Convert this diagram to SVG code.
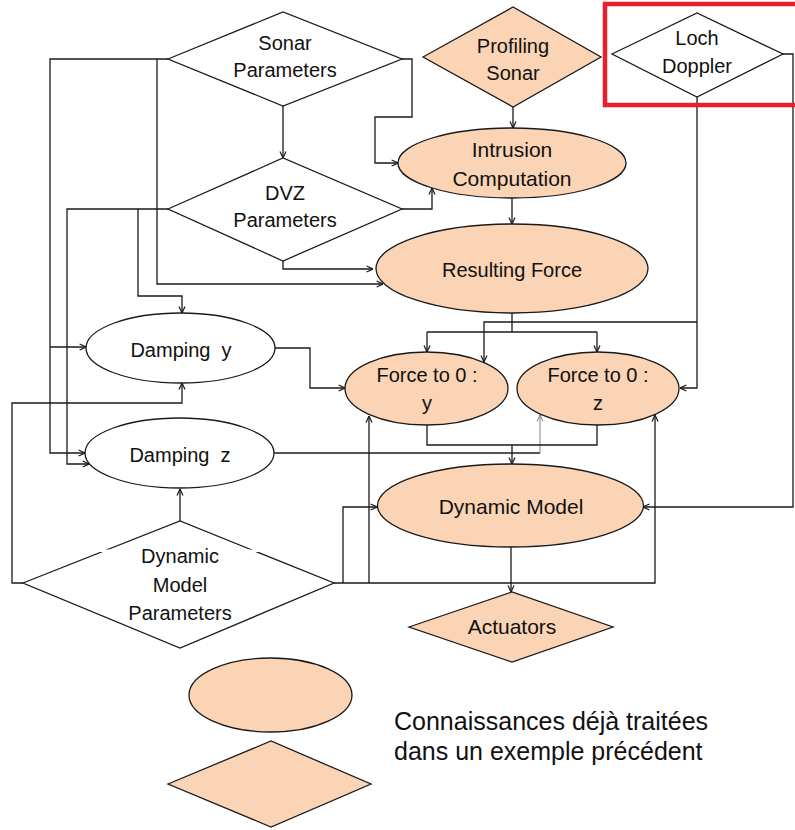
<svg xmlns="http://www.w3.org/2000/svg" width="795" height="830" viewBox="0 0 795 830">
  <style>
    .bg { fill: #ffffff; }
    .known { fill: #FAD4B4; stroke: #1a1a1a; stroke-width: 1.3; }
    .plain { fill: #ffffff; stroke: #1a1a1a; stroke-width: 1.3; }
    .wire { fill: none; stroke: #1a1a1a; stroke-width: 1.3; stroke-linejoin: miter; }
    .wire-thin { fill: none; stroke: #808080; stroke-width: 1; }
    .lbl { font-family: "Liberation Sans", Arial, sans-serif; font-size: 20px; fill: #111111; text-anchor: middle; }
    .lbl-l { font-size: 21px; }
    .note { font-family: "Liberation Sans", Arial, sans-serif; font-size: 25px; fill: #111111; }
  </style>
  <defs>
    <marker id="arr" viewBox="0 0 8 8" refX="7.6" refY="4" markerWidth="8" markerHeight="8" markerUnits="userSpaceOnUse" orient="auto">
      <path d="M1.2,1 L7.6,4 L1.2,7" fill="none" stroke="#1a1a1a" stroke-width="1.2"/>
    </marker>
    <marker id="arr-grey" viewBox="0 0 8 8" refX="7.6" refY="4" markerWidth="8" markerHeight="8" markerUnits="userSpaceOnUse" orient="auto">
      <path d="M1.2,1 L7.6,4 L1.2,7" fill="none" stroke="#808080" stroke-width="1"/>
    </marker>
  </defs>

  <rect class="bg" x="0" y="0" width="795" height="830"/>

  <!-- connectors -->
  <g id="connectors">
    <!-- Sonar Parameters, left side feeds -->
    <path class="wire" d="M168,59 H50 V453 H85" marker-end="url(#arr)"/>
    <path class="wire" d="M50,347 H86" marker-end="url(#arr)"/>
    <path class="wire" d="M157,59 V284 H383" marker-end="url(#arr)"/>
    <!-- Sonar Parameters, right side to Intrusion Computation -->
    <path class="wire" d="M402,59 H412 V117 H375 V163 H398" marker-end="url(#arr)"/>
    <!-- Sonar Parameters to DVZ Parameters -->
    <path class="wire" d="M283,106 V158" marker-end="url(#arr)"/>
    <!-- DVZ Parameters, left side feeds -->
    <path class="wire" d="M168,209 H67 V464 H89" marker-end="url(#arr)"/>
    <path class="wire" d="M138,209 V296 H182 V313" marker-end="url(#arr)"/>
    <!-- DVZ Parameters to Intrusion Computation -->
    <path class="wire" d="M402,209 H432 V188" marker-end="url(#arr)"/>
    <!-- DVZ Parameters to Resulting Force -->
    <path class="wire" d="M283,261 V269 H373" marker-end="url(#arr)"/>
    <!-- Profiling Sonar to Intrusion Computation -->
    <path class="wire" d="M513,107 V128" marker-end="url(#arr)"/>
    <!-- Intrusion Computation to Resulting Force -->
    <path class="wire" d="M512,198 V224" marker-end="url(#arr)"/>
    <!-- Resulting Force to both Force-to-0 nodes -->
    <path class="wire" d="M512,313 V332"/>
    <path class="wire" d="M427,332 H597"/>
    <path class="wire" d="M427,332 V352" marker-end="url(#arr)"/>
    <path class="wire" d="M597,332 V352" marker-end="url(#arr)"/>
    <!-- Loch Doppler to Force-to-0 nodes -->
    <path class="wire" d="M697,97 V388 H680" marker-end="url(#arr)"/>
    <path class="wire" d="M697,322 H484 V362" marker-end="url(#arr)"/>
    <!-- Loch Doppler to Dynamic Model -->
    <path class="wire" d="M783,54 H793 V507 H643" marker-end="url(#arr)"/>
    <!-- Damping y to Force to 0 : y -->
    <path class="wire" d="M275,348 H310 V388 H345" marker-end="url(#arr)"/>
    <!-- Damping z to Force to 0 : z -->
    <path class="wire" d="M274,453 H540"/>
    <path class="wire-thin" d="M540,453 V415" marker-end="url(#arr-grey)"/>
    <!-- Force-to-0 nodes to Dynamic Model -->
    <path class="wire" d="M427,425 V445 H597 V425"/>
    <path class="wire" d="M512,445 V464" marker-end="url(#arr)"/>
    <!-- Dynamic Model to Actuators -->
    <path class="wire" d="M511,547 V592" marker-end="url(#arr)"/>
    <!-- Dynamic Model Parameters, right side feeds -->
    <path class="wire" d="M334,583 H655 V415" marker-end="url(#arr)"/>
    <path class="wire" d="M343,583 V507 H377" marker-end="url(#arr)"/>
    <path class="wire" d="M369,583 V416" marker-end="url(#arr)"/>
    <!-- Dynamic Model Parameters, left side to Damping y -->
    <path class="wire" d="M23,583 H12 V403 H182 V383" marker-end="url(#arr)"/>
    <!-- Dynamic Model Parameters to Damping z -->
    <path class="wire" d="M180,521 V489" marker-end="url(#arr)"/>
  </g>

  <!-- nodes -->
  <g id="sonar-parameters">
    <polygon class="plain" points="168,59 283,12 402,59 283,106"/>
    <text class="lbl" x="285" y="50">Sonar</text>
    <text class="lbl" x="285" y="77">Parameters</text>
  </g>

  <g id="profiling-sonar">
    <polygon class="known" points="423,57 513,7 601,57 513,107"/>
    <text class="lbl" x="513" y="53">Profiling</text>
    <text class="lbl" x="513" y="80">Sonar</text>
  </g>

  <g id="loch-doppler">
    <polygon class="plain" points="612,54 697,13 783,54 697,97"/>
    <text class="lbl" x="697" y="45">Loch</text>
    <text class="lbl" x="697" y="73">Doppler</text>
  </g>

  <g id="highlight">
    <rect x="605" y="4" width="210" height="101" fill="none" stroke="#E8202A" stroke-width="4.5"/>
  </g>

  <g id="dvz-parameters">
    <polygon class="plain" points="168,209 283,158 402,209 283,261"/>
    <text class="lbl" x="285" y="200">DVZ</text>
    <text class="lbl" x="285" y="227">Parameters</text>
  </g>

  <g id="intrusion-computation">
    <ellipse class="known" cx="512" cy="163" rx="114" ry="35"/>
    <text class="lbl lbl-l" x="512" y="157">Intrusion</text>
    <text class="lbl lbl-l" x="512" y="186">Computation</text>
  </g>

  <g id="resulting-force">
    <ellipse class="known" cx="512" cy="268.5" rx="136" ry="44.5"/>
    <text class="lbl" x="512" y="277">Resulting Force</text>
  </g>

  <g id="damping-y">
    <ellipse class="plain" cx="180.5" cy="348" rx="94.5" ry="35"/>
    <text class="lbl" x="181" y="357" xml:space="preserve">Damping  y</text>
  </g>

  <g id="damping-z">
    <ellipse class="plain" cx="179.5" cy="453" rx="94.5" ry="35"/>
    <text class="lbl" x="180" y="462" xml:space="preserve">Damping  z</text>
  </g>

  <g id="force-to-zero-y">
    <ellipse class="known" cx="426.5" cy="388.5" rx="81.5" ry="36.5"/>
    <text class="lbl" x="427" y="382">Force to 0 :</text>
    <text class="lbl" x="427" y="410">y</text>
  </g>

  <g id="force-to-zero-z">
    <ellipse class="known" cx="598" cy="388.5" rx="81" ry="36.5"/>
    <text class="lbl" x="598" y="382">Force to 0 :</text>
    <text class="lbl" x="598" y="410">z</text>
  </g>

  <g id="dynamic-model">
    <ellipse class="known" cx="510.5" cy="505.5" rx="133" ry="41.5"/>
    <text class="lbl lbl-l" x="511" y="514">Dynamic Model</text>
  </g>

  <g id="dynamic-model-parameters">
    <polygon class="plain" points="23,583 180,521 334,583 180,648"/>
    <!-- white label box edge breaking the diamond outline -->
    <rect x="96" y="549.5" width="168" height="2.5" fill="#ffffff"/>
    <text class="lbl" x="180" y="563">Dynamic</text>
    <text class="lbl" x="180" y="592">Model</text>
    <text class="lbl" x="180" y="620">Parameters</text>
  </g>

  <g id="actuators">
    <polygon class="known" points="409,627 512,592 613,627 512,662"/>
    <text class="lbl lbl-l" x="512" y="634">Actuators</text>
  </g>

  <!-- legend -->
  <g id="legend">
    <ellipse class="known" cx="270.5" cy="695" rx="81.5" ry="37"/>
    <polygon class="known" points="168,784 271,741 371,784 271,827"/>
    <text class="note" x="394" y="730">Connaissances déjà traitées</text>
    <text class="note" x="394" y="760">dans un exemple précédent</text>
  </g>
</svg>
